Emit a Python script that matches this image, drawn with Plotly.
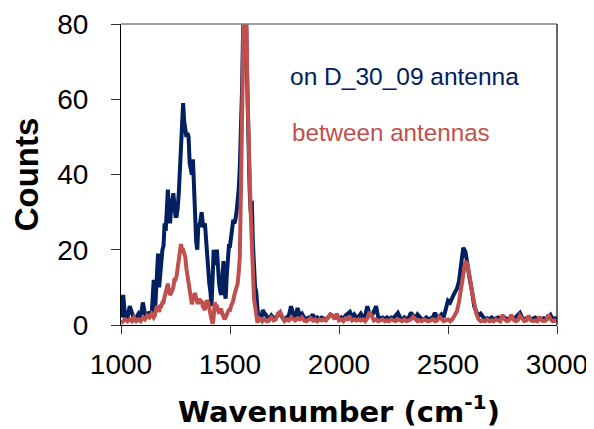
import plotly.graph_objects as go

# Wavenumber sampling grid (cm^-1): three segments
wn_low = list(range(1000, 1151, 10))
wn_mid = list(range(1155, 1651, 5))
wn_high = list(range(1660, 3001, 10))
wavenumber = wn_low + wn_mid + wn_high

# Series: "on D_30_09 antenna"
antenna_low = [2, 8, 1.5, 2, 5, 3, 1.5, 2, 3, 2, 6, 3, 2, 3.5, 2, 12]
antenna_mid = [
    2.5, 8, 15, 19, 10, 14, 17, 20, 21, 27,
    25, 31, 36, 30, 27, 31, 33, 35, 32, 29,
    29, 31, 35, 41, 49, 55, 59, 54, 51, 50,
    51, 50, 43, 41, 40, 44, 36, 30, 22, 20,
    27, 26, 29, 30, 27, 26, 27, 22, 18, 13,
    11, 9, 5, 12, 20, 17, 16, 20, 13, 11,
    9, 8, 12, 17, 9, 7, 13, 18, 21, 21,
    23, 25, 28, 27, 28, 30, 33, 36, 42, 50,
    62, 78, 92, 90, 75, 58, 45, 36, 30, 33,
    22, 14, 10, 9, 5, 1.5, 2, 3, 2, 4,
]
antenna_high = [
    3, 2, 1.5, 2.5, 1.8, 2, 2.5, 3.2, 2, 1.5,
    2, 2.5, 5, 3, 2, 4.5, 2.5, 3, 2, 1.5,
    2, 2, 2.8, 1.5, 2, 1.5, 2, 1.8, 1.5, 2,
    2.8, 2.5, 2, 2.5, 1.5, 2, 1.5, 2.5, 3, 3.5,
    2, 2.8, 2, 2.2, 3, 2, 2.5, 5, 3, 2.5,
    3.5, 5, 2, 1.8, 2, 1.5, 2, 1.5, 2, 1.8,
    2.5, 3.2, 2, 1.5, 2, 1.5, 2, 3.3, 2.5, 1.8,
    2.8, 2, 1.5, 1.5, 2, 1.5, 1.8, 2, 3.2, 2,
    2.2, 2.8, 2, 4, 6.5, 6, 7.5, 8.5, 9.5, 11.5,
    16, 20.5, 19.5, 15, 12, 9, 5, 3.5, 2.5, 3,
    2, 1.5, 1.8, 1.5, 2, 1.5, 1.8, 2, 1.5, 2.2,
    2, 1.5, 1.8, 2, 1.5, 2, 2.5, 3.2, 2, 1.5,
    1.8, 2, 1.5, 1.8, 2, 1.5, 1.8, 1.5, 1.8, 1.5,
    2, 2.7, 1.5, 1.8, 1.5,
]

# Series: "between antennas"
between_low = [0.5, 1, 1.5, 1, 1.5, 1, 2, 1, 1.5, 1, 2, 1.5, 2.5, 2, 3, 2]
between_mid = [
    2.5, 4, 5, 4.5, 3.5, 5, 5, 6, 6, 7.5,
    9, 10.5, 11, 9, 8, 8.5, 9.5, 10, 12, 12,
    13, 15.5, 17, 21, 21.5, 20, 20, 19, 18, 15,
    13, 11, 9, 7.5, 5.5, 7, 8, 8.5, 7, 6,
    6, 7, 6, 6.5, 5, 4.5, 4, 6, 6.5, 6,
    4, 3, 1.5, 0.3, 2, 6, 5, 5, 3.5, 3,
    4, 4, 3, 2.5, 1.5, 2, 3, 3.5, 4, 4,
    5, 5.5, 6.5, 8, 9, 10, 11, 14, 18, 35,
    55, 78, 92, 96, 85, 62, 48, 39, 30, 22,
    11, 7, 5, 2.5, 1, 1, 1.5, 1, 2, 1,
]
between_high = [
    1.5, 1, 1.5, 2, 1.2, 1.5, 3, 3.5, 2, 1,
    1.5, 1.2, 2, 1.5, 1.2, 1.8, 1.5, 2, 1.2, 1,
    1.5, 1.8, 1.2, 1.5, 1, 1.5, 1.2, 1.5, 1.2, 2,
    2.8, 2.5, 1.5, 3, 1.2, 1.5, 1, 1.8, 1.5, 2,
    1.2, 1.5, 1.2, 1.5, 1.2, 1.5, 1, 1.8, 3.5, 2.5,
    1.2, 1.5, 1, 1.2, 1.5, 1, 1.2, 1, 1.5, 1.2,
    1, 1.5, 1.2, 1, 1.5, 1, 1.2, 1.5, 2.2, 1.5,
    1, 1.2, 1, 1.5, 1.2, 1, 1.2, 1.5, 1, 1.2,
    2.2, 1.5, 1, 1.2, 1.5, 1, 1.5, 2.5, 3.5, 6,
    10, 14, 17, 16, 12, 9, 6, 3, 1.5, 1,
    1.2, 1, 1.5, 1, 1.2, 1, 1.5, 1.2, 1, 2.7,
    1.5, 1, 1.2, 2.7, 1.5, 1, 1.2, 2.5, 1.5, 1,
    1.2, 2.5, 1.2, 1, 1.2, 1, 2.2, 1.2, 1, 1.2,
    2.7, 1.5, 1, 1.2, 1,
]

antenna = antenna_low + antenna_mid + antenna_high
between = between_low + between_mid + between_high
assert len(antenna) == len(wavenumber), (len(antenna), len(wavenumber))
assert len(between) == len(wavenumber), (len(between), len(wavenumber))

label_antenna = "on D_30_09 antenna"
label_between = "between antennas"
navy = "#002060"
red = "#C0504D"
font_family = "Liberation Sans, Arial, sans-serif"
wide_family = "DejaVu Sans, Liberation Sans, Arial, sans-serif"

fig = go.Figure()
fig.add_trace(go.Scatter(x=wavenumber, y=antenna, mode="lines", name=label_antenna,
                         line=dict(color=navy, width=4), cliponaxis=True))
fig.add_trace(go.Scatter(x=wavenumber, y=between, mode="lines", name=label_between,
                         line=dict(color=red, width=4), cliponaxis=True))

fig.add_annotation(x=0.383, y=0.824, xref="paper", yref="paper", text=label_antenna,
                   showarrow=False, xanchor="left", yanchor="middle",
                   font=dict(family=font_family, size=24.5, color=navy))
fig.add_annotation(x=0.388, y=0.638, xref="paper", yref="paper", text=label_between,
                   showarrow=False, xanchor="left", yanchor="middle",
                   font=dict(family=font_family, size=24.2, color=red))

# frame: top gray, right black
fig.add_shape(type="line", xref="paper", yref="paper", x0=0, x1=1, y0=1, y1=1,
              line=dict(color="#808080", width=1.5))
fig.add_shape(type="line", xref="paper", yref="paper", x0=1, x1=1, y0=0, y1=1,
              line=dict(color="#000000", width=1.2))

# the page body adds an 8px offset, margins compensate for it
fig.update_layout(
    width=594, height=429,
    margin=dict(l=113, r=45, t=16, b=112, autoexpand=False),
    paper_bgcolor="white", plot_bgcolor="white",
    showlegend=False,
    font=dict(family=font_family, color="black"),
)
fig.update_xaxes(
    range=[1000, 3000], tickvals=[1000, 1500, 2000, 2500, 3000],
    ticks="outside", ticklen=8, tickwidth=1.2, tickcolor="#333",
    showline=True, linecolor="black", linewidth=1.2,
    showgrid=False, zeroline=False, automargin=False,
    ticklabeloverflow="allow",
    tickfont=dict(size=28, family=font_family, color="black"),
    ticklabelstandoff=6,
    title=dict(text="<b>Wavenumber (cm<sup>-1</sup>)</b>",
               font=dict(size=29, family=wide_family, color="black"), standoff=22),
)
fig.update_yaxes(
    range=[0, 80], tickvals=[0, 20, 40, 60, 80],
    ticks="outside", ticklen=9, tickwidth=1.2, tickcolor="#333",
    showline=True, linecolor="black", linewidth=1.2,
    showgrid=False, zeroline=False, automargin=False,
    ticklabeloverflow="allow",
    tickfont=dict(size=28, family=font_family, color="black"),
    ticklabelstandoff=17,
    title=dict(text="<b>Counts</b>",
               font=dict(size=33, family=font_family, color="black"), standoff=16),
)

fig.write_html("out.html")
